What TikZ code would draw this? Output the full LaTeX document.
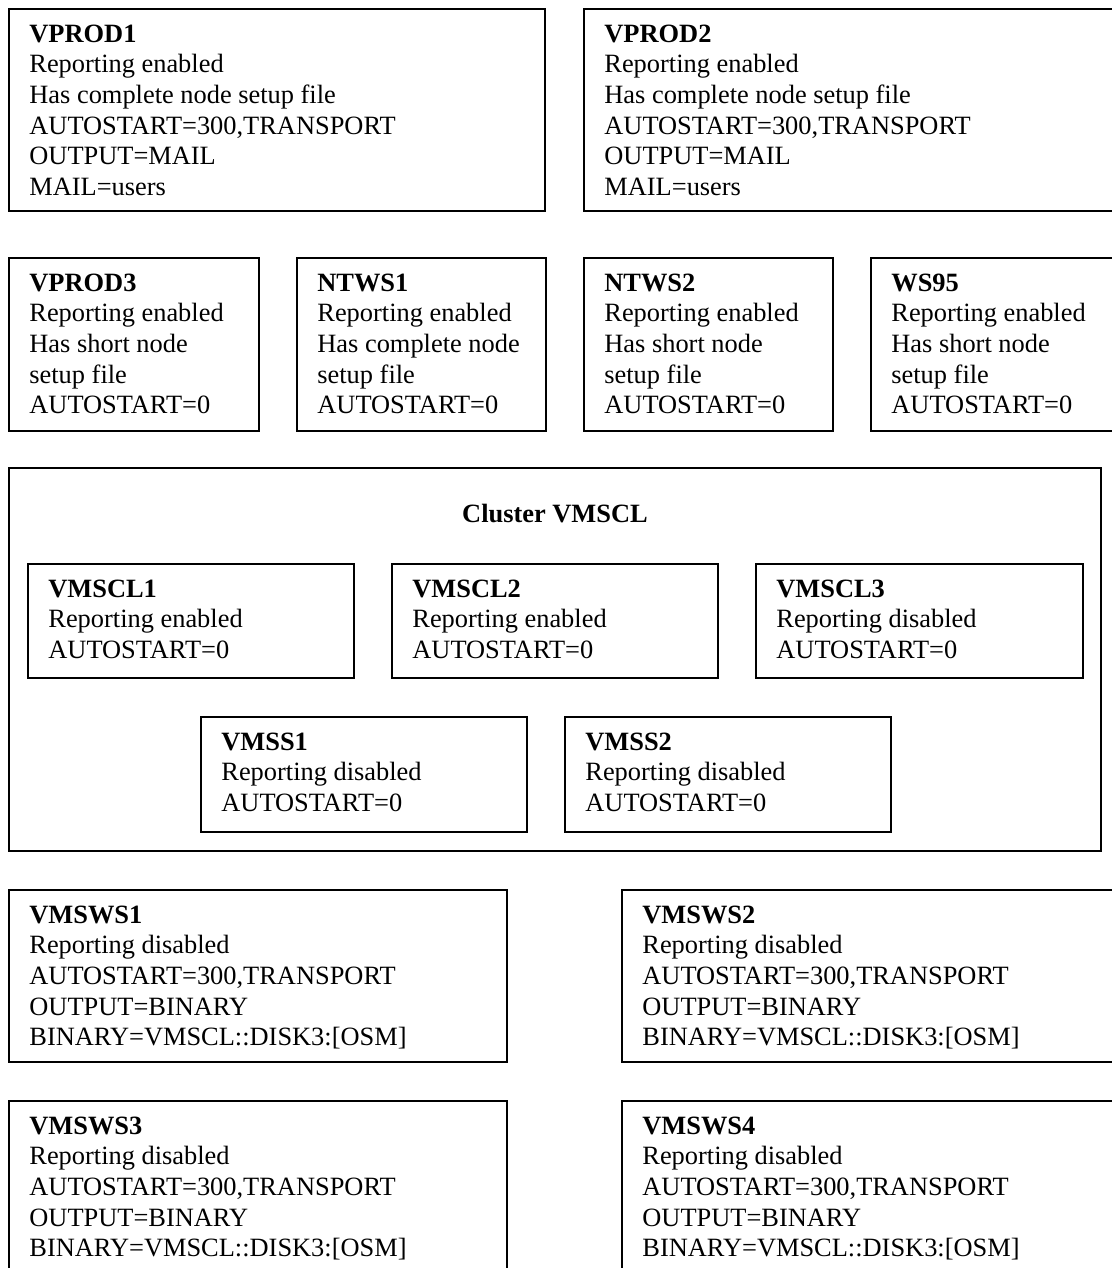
\documentclass[tikz,border=0pt]{standalone}
\usepackage{fontspec}
\setmainfont{Liberation Serif}
\usepackage{tikz}
\usetikzlibrary{positioning}

\begin{document}
\begin{tikzpicture}[x=0.5pt, y=-0.5pt,
    machine/.style 2 args={rectangle, draw, line width=1pt, anchor=north west,
        inner sep=0pt, minimum width=#1*0.5pt, minimum height=#2*0.5pt},
    info/.style={rectangle, anchor=north west, inner sep=0pt, align=left,
        font=\fontsize{13.2}{15.3}\selectfont, execute at begin node=\strut}]
        \useasboundingbox (0,0) rectangle (1112,1268);
        \clip (0,0) rectangle (1112,1268);

        % top row
        \node[machine={536}{202}] (vprod1) at (8,8) {};
        \node[info] (vprod1_t) at ([shift={(21,16.5)}]vprod1.north west)
            {\textbf{VPROD1}\\Reporting enabled\\Has complete node setup file\\
             AUTOSTART=300,TRANSPORT\\OUTPUT=MAIL\\MAIL=users};

        \node[machine={560}{202}] (vprod2) at (583,8) {};
        \node[info] (vprod2_t) at ([shift={(21,16.5)}]vprod2.north west)
            {\textbf{VPROD2}\\Reporting enabled\\Has complete node setup file\\
             AUTOSTART=300,TRANSPORT\\OUTPUT=MAIL\\MAIL=users};

        % second row
        \node[machine={250}{173}] (vprod3) at (8,257) {};
        \node[info] (vprod3_t) at ([shift={(21,16.5)}]vprod3.north west)
            {\textbf{VPROD3}\\Reporting enabled\\Has short node\\setup file\\AUTOSTART=0};

        \node[machine={249}{173}] (ntws1) at (296,257) {};
        \node[info] (ntws1_t) at ([shift={(21,16.5)}]ntws1.north west)
            {\textbf{NTWS1}\\Reporting enabled\\Has complete node\\setup file\\AUTOSTART=0};

        \node[machine={249}{173}] (ntws2) at (583,257) {};
        \node[info] (ntws2_t) at ([shift={(21,16.5)}]ntws2.north west)
            {\textbf{NTWS2}\\Reporting enabled\\Has short node\\setup file\\AUTOSTART=0};

        \node[machine={280}{173}] (ws95) at (870,257) {};
        \node[info] (ws95_t) at ([shift={(21,16.5)}]ws95.north west)
            {\textbf{WS95}\\Reporting enabled\\Has short node\\setup file\\AUTOSTART=0};

        % the cluster
        \node[machine={1092}{383}] (vmscl) at (8,467) {};
        \node[info, anchor=base, execute at begin node={}] (vmscl_t)
            at ([yshift=-27.5pt]vmscl.north) {\textbf{Cluster VMSCL}};

        \node[machine={326}{114}] (vmscl1) at (27,563) {};
        \node[info] (vmscl1_t) at ([shift={(21,16.5)}]vmscl1.north west)
            {\textbf{VMSCL1}\\Reporting enabled\\AUTOSTART=0};

        \node[machine={326}{114}] (vmscl2) at (391,563) {};
        \node[info] (vmscl2_t) at ([shift={(21,16.5)}]vmscl2.north west)
            {\textbf{VMSCL2}\\Reporting enabled\\AUTOSTART=0};

        \node[machine={327}{114}] (vmscl3) at (755,563) {};
        \node[info] (vmscl3_t) at ([shift={(21,16.5)}]vmscl3.north west)
            {\textbf{VMSCL3}\\Reporting disabled\\AUTOSTART=0};

        \node[machine={326}{115}] (vmss1) at (200,716) {};
        \node[info] (vmss1_t) at ([shift={(21,16.5)}]vmss1.north west)
            {\textbf{VMSS1}\\Reporting disabled\\AUTOSTART=0};

        \node[machine={326}{115}] (vmss2) at (564,716) {};
        \node[info] (vmss2_t) at ([shift={(21,16.5)}]vmss2.north west)
            {\textbf{VMSS2}\\Reporting disabled\\AUTOSTART=0};

        % workstations
        \node[machine={498}{172}] (vmsws1) at (8,889) {};
        \node[info] (vmsws1_t) at ([shift={(21,16.5)}]vmsws1.north west)
            {\textbf{VMSWS1}\\Reporting disabled\\AUTOSTART=300,TRANSPORT\\
             OUTPUT=BINARY\\BINARY=VMSCL::DISK3:[OSM]};

        \node[machine={520}{172}] (vmsws2) at (621,889) {};
        \node[info] (vmsws2_t) at ([shift={(21,16.5)}]vmsws2.north west)
            {\textbf{VMSWS2}\\Reporting disabled\\AUTOSTART=300,TRANSPORT\\
             OUTPUT=BINARY\\BINARY=VMSCL::DISK3:[OSM]};

        \node[machine={498}{200}] (vmsws3) at (8,1100) {};
        \node[info] (vmsws3_t) at ([shift={(21,16.5)}]vmsws3.north west)
            {\textbf{VMSWS3}\\Reporting disabled\\AUTOSTART=300,TRANSPORT\\
             OUTPUT=BINARY\\BINARY=VMSCL::DISK3:[OSM]};

        \node[machine={520}{200}] (vmsws4) at (621,1100) {};
        \node[info] (vmsws4_t) at ([shift={(21,16.5)}]vmsws4.north west)
            {\textbf{VMSWS4}\\Reporting disabled\\AUTOSTART=300,TRANSPORT\\
             OUTPUT=BINARY\\BINARY=VMSCL::DISK3:[OSM]};

    \end{tikzpicture}
\end{document}
